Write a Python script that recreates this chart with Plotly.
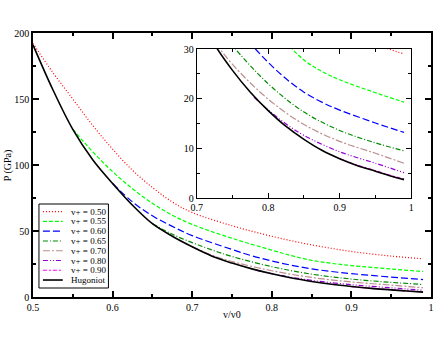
import plotly.graph_objects as go

# release curves (v/v0, P in GPa)
v_050 = [0.50, 0.525, 0.55, 0.575, 0.60, 0.625, 0.65, 0.675, 0.70, 0.75, 0.80, 0.85, 0.90, 0.95, 0.99]
p_050 = [192, 170, 150, 130, 112, 96, 83, 72, 64, 54, 46, 39.5, 34.5, 31, 29]

v_055 = [0.55, 0.575, 0.60, 0.625, 0.65, 0.675, 0.70, 0.75, 0.80, 0.825, 0.85, 0.875, 0.90, 0.95, 0.99]
p_055 = [127, 110, 95, 82, 71, 62, 55, 44.5, 35.5, 31.3, 27.8, 25.5, 23.8, 21.2, 19.3]

v_060 = [0.60, 0.625, 0.65, 0.675, 0.70, 0.75, 0.775, 0.80, 0.825, 0.85, 0.875, 0.90, 0.95, 0.99]
p_060 = [86, 72, 61.5, 53.5, 46.5, 36, 31.2, 27.3, 24.0, 21.3, 19.3, 17.7, 15.1, 13.2]

v_065 = [0.65, 0.675, 0.70, 0.725, 0.75, 0.80, 0.85, 0.90, 0.95, 0.99]
p_065 = [55.5, 47.5, 41.2, 35.6, 30.7, 23.0, 17.3, 13.6, 11.1, 9.5]

v_070 = [0.70, 0.725, 0.75, 0.80, 0.85, 0.90, 0.95, 0.99]
p_070 = [38, 31.6, 26.9, 19.9, 14.8, 11.4, 9.0, 7.0]

v_080 = [0.78, 0.80, 0.825, 0.85, 0.90, 0.95, 0.99]
p_080 = [20.3, 17.7, 14.9, 12.6, 9.3, 7.0, 5.1]

v_090 = [0.90, 0.925, 0.95, 0.97, 0.99]
p_090 = [7.9, 6.6, 5.5, 4.6, 3.8]

v_hug = [0.50, 0.525, 0.55, 0.575, 0.60, 0.625, 0.65, 0.675, 0.70, 0.725, 0.75,
         0.775, 0.80, 0.825, 0.85, 0.875, 0.90, 0.925, 0.95, 0.97, 0.99]
p_hug = [191, 157, 127, 104, 86, 69.5, 55.5, 46, 38, 30.9, 25.7,
         21.3, 17.6, 14.4, 11.8, 9.6, 7.9, 6.5, 5.4, 4.5, 3.7]

names = ['v+ = 0.50', 'v+ = 0.55', 'v+ = 0.60', 'v+ = 0.65', 'v+ = 0.70',
         'v+ = 0.80', 'v+ = 0.90', 'Hugoniot']
xs = [v_050, v_055, v_060, v_065, v_070, v_080, v_090, v_hug]
ys = [p_050, p_055, p_060, p_065, p_070, p_080, p_090, p_hug]
colors = ['#ff0000', '#00ff00', '#0000ff', '#008b00', '#bc8f8f', '#9400d3', '#ff00ff', '#000000']
dashes = ['1px,2px', '4px,2px', '7px,3px', '5px,2px,1px,2px', '7px,2px,2px,2px',
          '5px,2px,1px,2px,1px,2px', '4px,2px,2px,2px', 'solid']
widths = [1.2, 1.2, 1.2, 1.2, 1.2, 1.2, 1.2, 1.6]

W, H = 440, 340
L, R, T, B = 33, 434, 33, 297
FONT = 'Liberation Serif, serif'


def px(x):
    return (x - L) / (R - L)


def py(y):
    return (B - y) / (B - T)


fig = go.Figure()

for x, y, n, c, d, w in zip(xs, ys, names, colors, dashes, widths):
    fig.add_trace(go.Scatter(x=x, y=y, mode='lines', name=n, showlegend=False,
                             line=dict(color=c, dash=d, width=w, shape='spline', smoothing=1.0),
                             xaxis='x', yaxis='y'))

# inset (zoom on the low pressure region)
for x, y, n, c, d, w in zip(xs, ys, names, colors, dashes, widths):
    fig.add_trace(go.Scatter(x=x, y=y, mode='lines', name=n, showlegend=False,
                             line=dict(color=c, dash=d, width=w, shape='spline', smoothing=1.0),
                             xaxis='x2', yaxis='y2'))

axis_common = dict(showgrid=False, zeroline=False, showline=True, linecolor='black',
                   mirror='ticks', ticks='inside', tickcolor='black',
                   tickfont=dict(family=FONT, size=10, color='black'))

fig.update_layout(
    width=W, height=H,
    margin=dict(l=L, r=W - R, t=T, b=H - B),
    paper_bgcolor='white', plot_bgcolor='white',
    showlegend=False,
    xaxis=dict(range=[0.5, 1.0], dtick=0.1, tick0=0.5, ticklen=6, linewidth=1.5,
               tickwidth=1.5, minor=dict(dtick=0.05, ticklen=3, ticks='inside', tickcolor='black'),
               domain=[0, 1], **axis_common),
    yaxis=dict(range=[0, 200], dtick=50, ticklen=6, linewidth=1.5, tickwidth=1.5,
               minor=dict(dtick=25, ticklen=3, ticks='inside', tickcolor='black'),
               domain=[0, 1], **axis_common),
    xaxis2=dict(range=[0.7, 1.0], dtick=0.1, tick0=0.7, ticklen=5, linewidth=1.2,
                tickwidth=1.2, minor=dict(dtick=0.05, ticklen=3, ticks='inside', tickcolor='black'),
                domain=[px(198), px(414)], anchor='y2', **axis_common),
    yaxis2=dict(range=[0, 30], dtick=10, ticklen=5, linewidth=1.2, tickwidth=1.2,
                minor=dict(dtick=5, ticklen=3, ticks='inside', tickcolor='black'),
                domain=[py(198), py(49)], anchor='x2', **axis_common),
)

# white background behind the inset
fig.add_shape(type='rect', xref='paper', yref='paper', x0=px(198), x1=px(414),
              y0=py(198), y1=py(49), fillcolor='white', line=dict(width=0), layer='below')

# axis titles
fig.add_annotation(text='v/v0', xref='paper', yref='paper', x=0.5, y=py(314),
                   xanchor='center', yanchor='middle',
                   showarrow=False, font=dict(family=FONT, size=10, color='black'))
fig.add_annotation(text='P (GPa)', xref='paper', yref='paper', x=px(8), y=py(165),
                   xanchor='center', yanchor='middle',
                   textangle=-90, showarrow=False, font=dict(family=FONT, size=10, color='black'))

# hand-made legend box, sized like the original
fig.add_shape(type='rect', xref='paper', yref='paper', x0=px(39), x1=px(109),
              y0=py(288), y1=py(204), fillcolor='white', line=dict(color='black', width=1))
row0, step = 211.7, 9.76
for i, (n, c, d, w) in enumerate(zip(names, colors, dashes, widths)):
    yy = row0 + i * step
    fig.add_shape(type='line', xref='paper', yref='paper', x0=px(43), x1=px(63),
                  y0=py(yy), y1=py(yy), line=dict(color=c, dash=d, width=w))
    fig.add_annotation(text=n, xref='paper', yref='paper', x=px(69), y=py(yy),
                       xanchor='left', yanchor='middle', showarrow=False,
                       font=dict(family=FONT, size=9, color='black'))

fig.write_html("out.html", config={'displayModeBar': False},
               post_script="document.body.style.margin='0';")
